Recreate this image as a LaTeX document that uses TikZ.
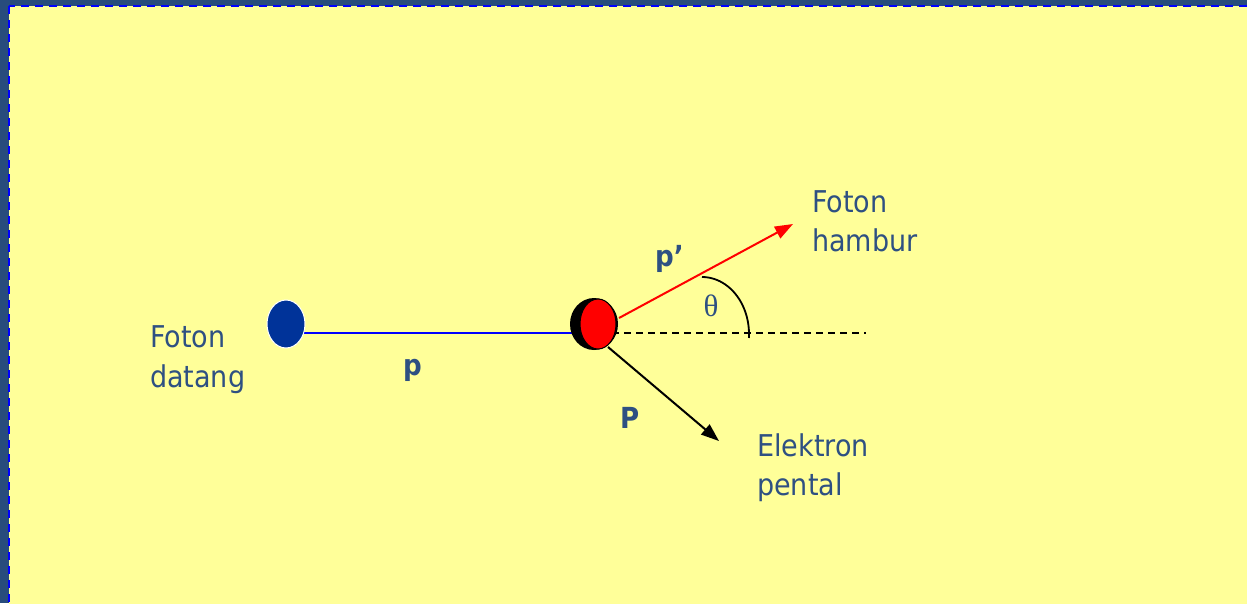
\documentclass[tikz,border=0pt]{standalone}
\usepackage{fontspec}
\setmainfont{DejaVu Sans Condensed}
\newfontfamily\greekfont{Liberation Serif}
\usetikzlibrary{shapes.geometric,arrows.meta}
\definecolor{frameblue}{RGB}{40,76,124}
\definecolor{paper}{RGB}{255,255,153}
\definecolor{txt}{RGB}{46,80,130}
\definecolor{photonblue}{RGB}{0,51,153}
\tikzset{
  lbl/.style={anchor=base west,inner sep=0pt,text=txt,font=\fontsize{30}{40}\selectfont},
  vec/.style={anchor=base west,inner sep=0pt,text=txt,font=\fontsize{29}{36}\selectfont\bfseries},
  tipA/.style={-{Triangle[length=18pt,width=13pt]}},
}
\begin{document}
\begin{tikzpicture}[x=1pt,y=-1pt]
\useasboundingbox (0,0) rectangle (1247,603);
\fill[frameblue] (0,0) rectangle (1247,603);
\begin{scope}
\clip (0,0) rectangle (1247,603);
\draw[blue,line width=2pt,dash pattern=on 8pt off 6pt,fill=paper] (9,6) rectangle (1260,620);
\end{scope}
% incoming photon line
\coordinate (pstart) at (300,333);
\coordinate (pend) at (580,333);
\draw[blue,line width=2pt] (pstart) -- (pend);
% dashed reference line
\coordinate (dstart) at (612,333);
\coordinate (dend) at (866,333);
\draw[black,line width=1.6pt,dash pattern=on 7pt off 5pt] (dstart) -- (dend);
% particles
\node[ellipse,draw=white,line width=1pt,fill=photonblue,minimum width=38pt,minimum height=48pt,inner sep=0pt] (photon) at (286,324) {};
\node[ellipse,fill=black,minimum width=48pt,minimum height=52pt,inner sep=0pt] (ball) at (594,324) {};
\node[ellipse,draw=black,line width=1pt,fill=red,minimum width=36pt,minimum height=50pt,inner sep=0pt] (redball) at (598,324) {};
% scattered photon
\coordinate (rtip) at (793,224);
\draw[red,line width=2pt,tipA] (619,318) -- (rtip);
% recoil electron
\coordinate (etip) at (719,441);
\draw[black,line width=2pt,tipA] (608,347) -- (etip);
% angle arc
\draw[black,line width=1.8pt] (702,277) arc[start angle=-90,end angle=4,x radius=47,y radius=57];
\node[inner sep=0pt,text=txt,font=\fontsize{31}{34}\selectfont\greekfont] (theta) at (711,306) {θ};
% labels
\node[lbl] (fd1) at (150,347) {Foton};
\node[lbl] (fd2) at (150,387) {datang};
\node[lbl] (fh1) at (812,212) {Foton};
\node[lbl] (fh2) at (812,251) {hambur};
\node[lbl] (ep1) at (757,456) {Elektron};
\node[lbl] (ep2) at (757,495) {pental};
\node[vec] (plab) at (403,375) {p};
\node[vec] (pplab) at (655,266) {p’};
\node[vec] (Plab) at (620,428) {P};
\end{tikzpicture}
\end{document}
